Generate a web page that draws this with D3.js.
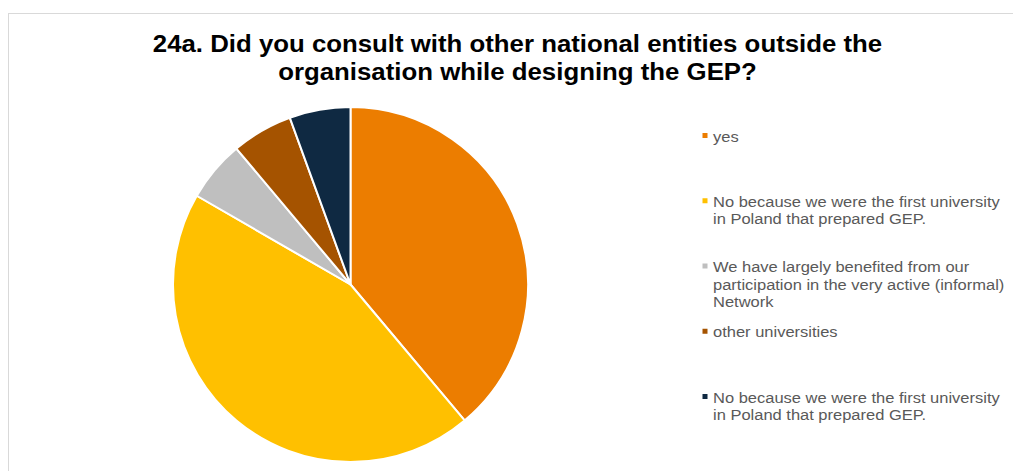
<!DOCTYPE html>
<html>
<head>
<meta charset="utf-8">
<script src="https://cdn.jsdelivr.net/npm/d3@7"></script>
<style>
  html, body { margin: 0; padding: 0; background: #fff; }
  svg { display: block; }
</style>
</head>
<body>
<svg id="chart" width="1013" height="471"></svg>
<script>
// Survey answers (number of respondents per answer)
const categories = [
  "yes",
  "No because we were the first university in Poland that prepared GEP.",
  "We have largely benefited from our participation in the very active (informal) Network",
  "other universities",
  "No because we were the first university in Poland that prepared GEP."
];
const values = [7, 8, 1, 1, 1];
const colors = ["#EC7D00", "#FFC000", "#BFBFBF", "#A55300", "#0F2942"];
const legendLines = [
  ["yes"],
  ["No because we were the first university", "in Poland that prepared GEP."],
  ["We have largely benefited from our", "participation in the very active (informal)", "Network"],
  ["other universities"],
  ["No because we were the first university", "in Poland that prepared GEP."]
];
const titleLines = [
  "24a. Did you consult with other national entities outside the",
  "organisation while designing the GEP?"
];

const svg = d3.select("#chart");
const font = "'Liberation Sans', Arial, sans-serif";

// chart area frame
svg.append("rect")
  .attr("x", 8.5).attr("y", 13.5)
  .attr("width", 1100).attr("height", 600)
  .attr("fill", "#fff")
  .attr("stroke", "#D9D9D9")
  .attr("stroke-width", 1);

// title (slightly widened glyphs)
const titleX = 517.5, titleSx = 1.075;
svg.append("g")
  .attr("transform", `translate(${titleX},0) scale(${titleSx},1)`)
  .selectAll("text")
  .data(titleLines)
  .join("text")
  .attr("x", 0)
  .attr("y", (d, i) => 52 + i * 28)
  .attr("text-anchor", "middle")
  .attr("font-family", font)
  .attr("font-weight", "bold")
  .attr("font-size", 24)
  .attr("fill", "#000")
  .text(d => d);

// pie
const cx = 350.5, cy = 284.5, r = 177.5;
const pie = d3.pie().sort(null).value(d => d);
const arc = d3.arc().innerRadius(0).outerRadius(r);

svg.append("g")
  .attr("transform", `translate(${cx},${cy})`)
  .selectAll("path")
  .data(pie(values))
  .join("path")
  .attr("d", arc)
  .attr("fill", (d, i) => colors[i])
  .attr("stroke", "#fff")
  .attr("stroke-width", 2)
  .attr("stroke-linejoin", "round");

// legend
const lineH = 17.7;
const textX = 713, textSx = 1.10;
const itemY = d3.scaleLinear().domain([0, categories.length - 1]).range([141.5, 402.5]);
const legend = svg.append("g");
const items = legend.selectAll("g")
  .data(categories)
  .join("g")
  .attr("transform", (d, i) => `translate(0,${itemY(i)})`);

items.append("rect")
  .attr("x", 702.5).attr("y", -8.5)
  .attr("width", 5).attr("height", 5)
  .attr("fill", (d, i) => colors[i]);

items.append("text")
  .attr("transform", `translate(${textX},0) scale(${textSx},1)`)
  .attr("font-family", font)
  .attr("font-size", 15)
  .attr("fill", "#595959")
  .selectAll("tspan")
  .data((d, i) => legendLines[i])
  .join("tspan")
  .attr("x", 0)
  .attr("y", (d, j) => j * lineH)
  .text(d => d);
</script>
</body>
</html>
